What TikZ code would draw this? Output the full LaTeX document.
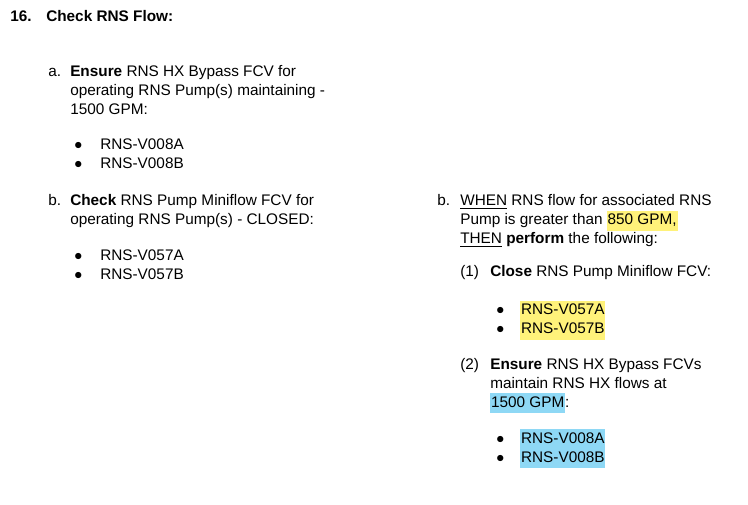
\documentclass[tikz,border=0pt]{standalone}
\usepackage{fontspec}
\setmainfont{Liberation Sans}
\definecolor{hlyellow}{HTML}{FFF27A}
\definecolor{hlblue}{HTML}{8ED8F5}
\newcommand{\hly}[1]{{\setlength{\fboxsep}{0.6pt}\colorbox{hlyellow}{\strut #1}}}
\newcommand{\hlb}[1]{{\setlength{\fboxsep}{0.6pt}\colorbox{hlblue}{\strut #1}}}
\begin{document}
\begin{tikzpicture}[x=0.75pt,y=-0.75pt]
	\tikzstyle{txt} = [anchor=base west, inner sep=0pt, font=\fontsize{11.5}{14}\selectfont]
	\useasboundingbox (0,0) rectangle (748,505);
	% heading
	\node (num) [txt] at (10,22) {\textbf{16.}};
	\node (head) [txt] at (46,22) {\textbf{Check RNS Flow:}};
	% left column
	\node (la) [txt] at (48,77) {a.};
	\node (la1) [txt] at (70,77) {\textbf{Ensure} RNS HX Bypass FCV for};
	\node (la2) [txt] at (70,96) {operating RNS Pump(s) maintaining -};
	\node (la3) [txt] at (70,115) {1500 GPM:};
	\node (lab1) [txt] at (74,150) {$\bullet$};
	\node (lat1) [txt] at (100,150) {RNS-V008A};
	\node (lab2) [txt] at (74,169) {$\bullet$};
	\node (lat2) [txt] at (100,169) {RNS-V008B};
	\node (lb) [txt] at (48,206) {b.};
	\node (lb1) [txt] at (70,206) {\textbf{Check} RNS Pump Miniflow FCV for};
	\node (lb2) [txt] at (70,225) {operating RNS Pump(s) - CLOSED:};
	\node (lbb1) [txt] at (74,261) {$\bullet$};
	\node (lbt1) [txt] at (100,261) {RNS-V057A};
	\node (lbb2) [txt] at (74,280) {$\bullet$};
	\node (lbt2) [txt] at (100,280) {RNS-V057B};
	% right column
	\node (rb) [txt] at (437,206) {b.};
	\node (rb1) [txt] at (460,206) {\underline{WHEN} RNS flow for associated RNS};
	\node (rb2) [txt] at (460,225) {Pump is greater than \hly{850 GPM,}};
	\node (rb3) [txt] at (460,244) {\underline{THEN} \textbf{perform} the following:};
	\node (r1) [txt] at (460,277) {(1)};
	\node (r1a) [txt] at (490,277) {\textbf{Close} RNS Pump Miniflow FCV:};
	\node (r1b1) [txt] at (496,315) {$\bullet$};
	\node (r1t1) [txt] at (520,315) {\hly{RNS-V057A}};
	\node (r1b2) [txt] at (496,334) {$\bullet$};
	\node (r1t2) [txt] at (520,334) {\hly{RNS-V057B}};
	\node (r2) [txt] at (460,369) {(2)};
	\node (r2a) [txt] at (490,369) {\textbf{Ensure} RNS HX Bypass FCVs};
	\node (r2b) [txt] at (490,388) {maintain RNS HX flows at};
	\node (r2c) [txt] at (490,407) {\hlb{1500 GPM}:};
	\node (r2b1) [txt] at (496,443) {$\bullet$};
	\node (r2t1) [txt] at (520,443) {\hlb{RNS-V008A}};
	\node (r2b2) [txt] at (496,462) {$\bullet$};
	\node (r2t2) [txt] at (520,462) {\hlb{RNS-V008B}};
\end{tikzpicture}
\end{document}
